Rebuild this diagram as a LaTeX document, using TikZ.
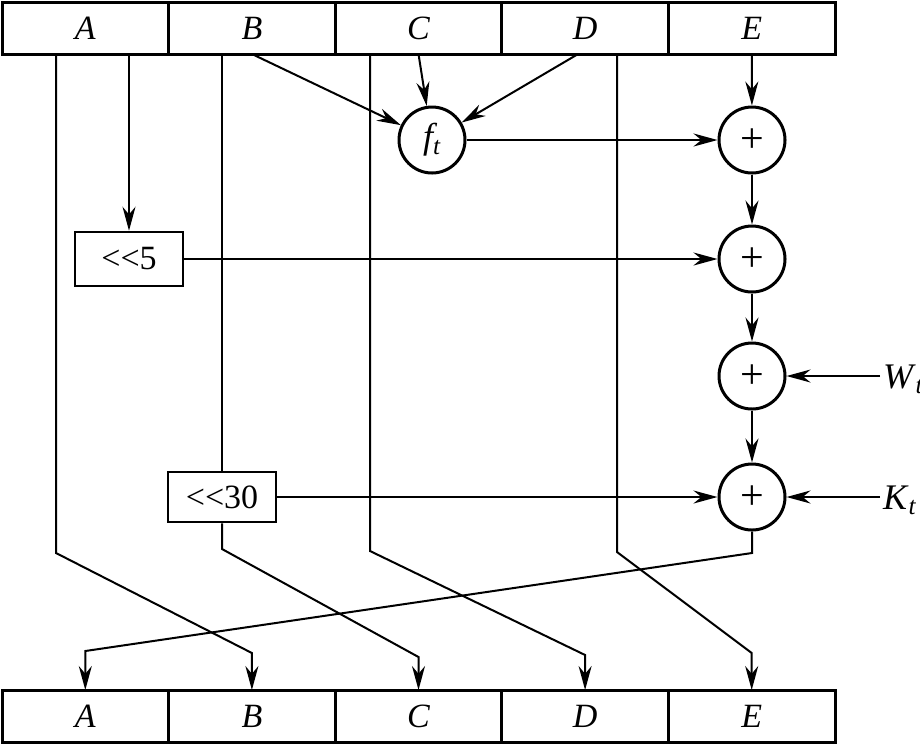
\documentclass[tikz,border=0pt]{standalone}
\usepackage{fontspec}
\setmainfont{Liberation Serif}
\usepackage{tikz}
\usetikzlibrary{arrows.meta,positioning}

\begin{document}
\begin{tikzpicture}[
  x=0.5pt,y=-0.5pt,
  cell/.style={draw, line width=1.5pt, minimum width=83.3pt,
    minimum height=26pt, inner sep=0pt, outer sep=0pt,
    font=\fontsize{17}{19}\selectfont\itshape},
  shiftbox/.style={draw, line width=1.3pt, minimum width=54pt,
    minimum height=27pt, font=\fontsize{17}{19}\selectfont},
  adder/.style={draw, circle, line width=1.5pt, minimum size=33pt,
    inner sep=0pt, font=\fontsize{21}{23}\selectfont},
  ->,>={Stealth[length=12pt,width=6.5pt]},line width=1pt
]
\useasboundingbox (0,0) rectangle (920,746);

\node[cell] (tA) at (85.3,28) {A};
\node[cell,right=0pt of tA] (tB) {B};
\node[cell,right=0pt of tB] (tC) {C};
\node[cell,right=0pt of tC] (tD) {D};
\node[cell,right=0pt of tD] (tE) {E};

\node[cell] (bA) at (85.3,716) {A};
\node[cell,right=0pt of bA] (bB) {B};
\node[cell,right=0pt of bB] (bC) {C};
\node[cell,right=0pt of bC] (bD) {D};
\node[cell,right=0pt of bD] (bE) {E};

\node[adder, font=\fontsize{18}{20}\selectfont] (ft) at (432,140)
  {\itshape f\textsubscript{t}};
\node[adder] (s1) at (752,140) {\smash{\raisebox{-6.3pt}{+}}};
\node[adder] (s2) at (752,259) {\smash{\raisebox{-6.3pt}{+}}};
\node[adder] (s3) at (752,376) {\smash{\raisebox{-6.3pt}{+}}};
\node[adder] (s4) at (752,497) {\smash{\raisebox{-6.3pt}{+}}};

\node[shiftbox] (r5) at (129,259) {<{}<5};
\node[shiftbox, minimum height=25pt] (r30) at (222,497) {<{}<30};

\node[anchor=west, inner sep=1pt, font=\fontsize{18}{20}\selectfont] (wt) at (880,379)
  {\textit{W}\textsubscript{\textit{t}}};
\node[anchor=west, inner sep=1pt, font=\fontsize{18}{20}\selectfont] (kt) at (880,500)
  {\textit{K}\textsubscript{\textit{t}}};

\draw (tB.south) -- (ft);
\draw (tC.south) -- (ft);
\draw ([xshift=-3.5pt]tD.south) -- (ft);
\draw (tE) -- (s1);
\draw (ft) -- (s1);
\draw (s1) -- (s2);
\draw (s2) -- (s3);
\draw (s3) -- (s4);
\draw (tA.south -| r5) -- (r5);
\draw (r5) -- (s2);
\draw (r30) -- (s4);
\draw (wt.west |- s3) -- (s3);
\draw (kt.west |- s4) -- (s4);

\draw (tA.south -| 56,0) -- (56,553) -- (bB.north |- 0,653) -- (bB.north);
\draw[-] (tB.south -| r30) -- (r30);
\draw (r30) -- (r30 |- 0,549) -- (bC.north |- 0,657) -- (bC.north);
\draw (tC.south -| 370,0) -- (370,551) -- (bD.north |- 0,655) -- (bD.north);
\draw (tD.south -| 617,0) -- (617,552) -- (bE.north |- 0,653) -- (bE.north);
\draw (s4) -- (s4 |- 0,553) -- (bA.north |- 0,651) -- (bA.north);
\end{tikzpicture}
\end{document}
